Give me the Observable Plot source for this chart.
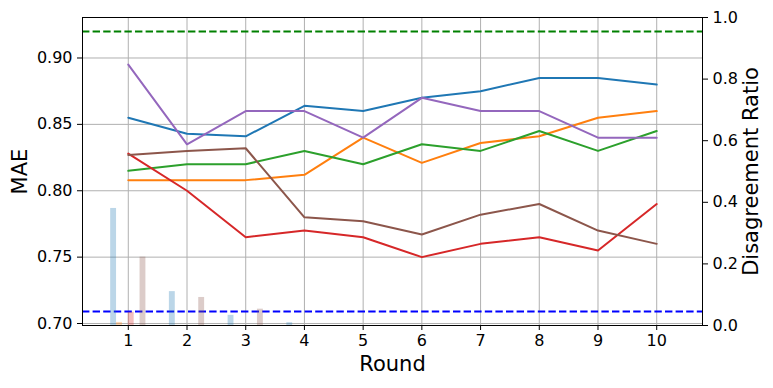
<!DOCTYPE html>
<html>
<head>
<meta charset="utf-8">
<script src="https://cdn.jsdelivr.net/npm/d3@7"></script>
<script src="https://cdn.jsdelivr.net/npm/@observablehq/plot@0.6"></script>
<style>
  html, body { margin: 0; padding: 0; background: white; }
  #chart { width: 773px; height: 388px; }
</style>
</head>
<body>
<div id="chart"></div>
<script>
// ---- data ----
const rounds = [1, 2, 3, 4, 5, 6, 7, 8, 9, 10];
const seriesNames = ["S1", "S2", "S3", "S4", "S5", "S6"];
const seriesColors = ["#1f77b4", "#ff7f0e", "#2ca02c", "#d62728", "#9467bd", "#8c564b"];

const maeS1 = [0.855, 0.843, 0.841, 0.864, 0.860, 0.870, 0.875, 0.885, 0.885, 0.880];
const maeS2 = [0.808, 0.808, 0.808, 0.812, 0.840, 0.821, 0.836, 0.841, 0.855, 0.860];
const maeS3 = [0.815, 0.820, 0.820, 0.830, 0.820, 0.835, 0.830, 0.845, 0.830, 0.845];
const maeS4 = [0.828, 0.800, 0.765, 0.770, 0.765, 0.750, 0.760, 0.765, 0.755, 0.790];
const maeS5 = [0.895, 0.835, 0.860, 0.860, 0.840, 0.870, 0.860, 0.860, 0.840, 0.840];
const maeS6 = [0.827, 0.830, 0.832, 0.780, 0.777, 0.767, 0.782, 0.790, 0.770, 0.760];

const disS1 = [0.380, 0.110, 0.033, 0.009, 0, 0, 0, 0, 0, 0];
const disS2 = [0.010, 0, 0, 0, 0, 0, 0, 0, 0, 0];
const disS3 = [0, 0, 0, 0, 0, 0, 0, 0, 0, 0];
const disS4 = [0.043, 0, 0, 0, 0, 0, 0, 0, 0, 0];
const disS5 = [0, 0, 0, 0, 0, 0, 0, 0, 0, 0];
const disS6 = [0.222, 0.091, 0.053, 0, 0, 0, 0, 0, 0, 0];

const barOffsets = [-0.25, -0.15, -0.05, 0.05, 0.15, 0.25];
const barWidth = 0.1;

const baselineHigh = 0.92;   // green dashed
const baselineLow = 0.709;   // blue dashed

const maeTicks = [0.70, 0.75, 0.80, 0.85, 0.90];
const ratioTicks = [0.0, 0.2, 0.4, 0.6, 0.8, 1.0];

// ---- build tables ----
const maeAll = [maeS1, maeS2, maeS3, maeS4, maeS5, maeS6];
const disAll = [disS1, disS2, disS3, disS4, disS5, disS6];

const yDomain = [0.6985, 0.9305];
// map the right-axis ratio [0,1] onto the left-axis domain
const toLeft = r => yDomain[0] + r * (yDomain[1] - yDomain[0]);
const fromLeft = v => (v - yDomain[0]) / (yDomain[1] - yDomain[0]);

const lineData = [];
maeAll.forEach((arr, i) => arr.forEach((v, j) => lineData.push({series: seriesNames[i], round: rounds[j], mae: v})));

const barData = [];
disAll.forEach((arr, i) => arr.forEach((v, j) => {
  if (v > 0) barData.push({series: seriesNames[i], round: rounds[j], offset: barOffsets[i], ratio: v});
}));

const W = 773, H = 388;
const chart = Plot.plot({
  width: W,
  height: H,
  marginLeft: 82,
  marginRight: 71,
  marginTop: 17,
  marginBottom: 63,
  style: {fontFamily: "DejaVu Sans", fontSize: "16px", background: "white", color: "black"},
  x: {domain: [0.22, 10.78]},
  y: {domain: yDomain},
  color: {domain: seriesNames, range: seriesColors},
  marks: [
    Plot.gridX(rounds, {stroke: "#b0b0b0", strokeOpacity: 1, strokeWidth: 1}),
    Plot.gridY(maeTicks, {stroke: "#b0b0b0", strokeOpacity: 1, strokeWidth: 1}),
    Plot.ruleY([baselineHigh], {stroke: "green", strokeWidth: 2, strokeDasharray: "7.4,3.2"}),
    Plot.ruleY([baselineLow], {stroke: "blue", strokeWidth: 2, strokeDasharray: "7.4,3.2"}),
    Plot.line(lineData, {x: "round", y: "mae", z: "series", stroke: "series", strokeWidth: 2}),
    Plot.rect(barData, {
      x1: d => d.round + d.offset - barWidth / 2,
      x2: d => d.round + d.offset + barWidth / 2,
      y1: () => toLeft(0),
      y2: d => toLeft(d.ratio),
      fill: "series",
      fillOpacity: 0.3
    }),
    Plot.frame({stroke: "black", strokeWidth: 1}),
    Plot.axisX({ticks: rounds, tickSize: 5, tickPadding: 4, label: null, tickFormat: d => String(d), fontSize: 16}),
    Plot.axisY({anchor: "left", ticks: maeTicks, tickSize: 5, tickPadding: 5, label: null, tickFormat: d => d.toFixed(2), fontSize: 16}),
    Plot.axisY({anchor: "right", ticks: ratioTicks.map(toLeft), tickSize: 5, tickPadding: 5, label: null,
      tickFormat: d => fromLeft(d).toFixed(1), fontSize: 16}),
    Plot.text(["MAE"], {text: d => d, frameAnchor: "left", dx: -62, rotate: -90, fontSize: 21, textAnchor: "middle", lineAnchor: "middle"}),
    Plot.text(["Disagreement Ratio"], {text: d => d, frameAnchor: "right", dx: 49, rotate: -90, fontSize: 21, textAnchor: "middle", lineAnchor: "middle"}),
    Plot.text(["Round"], {text: d => d, frameAnchor: "bottom", dy: 39, fontSize: 21, textAnchor: "middle", lineAnchor: "middle"})
  ]
});
document.getElementById("chart").appendChild(chart);
</script>
</body>
</html>
